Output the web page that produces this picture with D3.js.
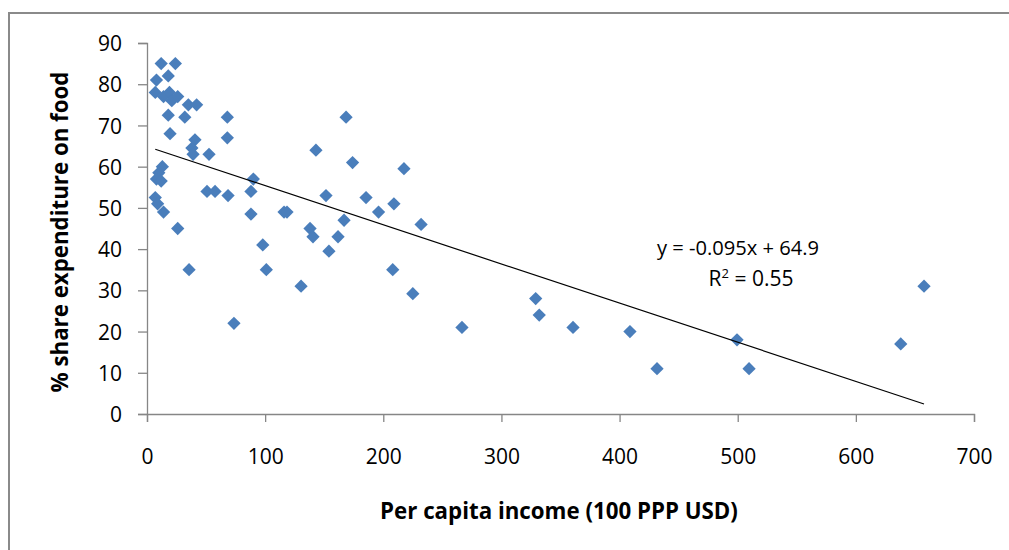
<!DOCTYPE html>
<html>
<head>
<meta charset="utf-8">
<script src="https://cdn.jsdelivr.net/npm/d3@7"></script>
<style>
  body { margin: 0; background: #fff; }
  text { font-family: "Open Sans", Lato, sans-serif; fill: #000; }
</style>
</head>
<body>
<div id="chart--wrap"></div>
<script>
;(function() {

// Data
const income = [12, 24, 18, 8, 7, 14, 19, 21, 26, 35, 42, 18, 32, 68, 19.5, 68, 40.6, 38, 39, 52.5,
  13, 10, 8, 12, 90, 7, 9, 14, 50.8, 57.6, 68.6, 88, 88, 26, 35.6, 98, 101, 73.6,
  168.5, 143, 174, 217.5, 151.5, 185.4, 209, 196, 116, 118.5, 166.8, 232, 138, 140.5, 161.7, 154, 208, 130.4, 225, 266.6,
  329, 332, 360.6, 408.8, 431.7, 499.4, 509.6, 638, 657.7];
const foodShare = [85, 85, 82, 81, 78, 77, 78, 76, 77, 75, 75, 72.5, 72, 72, 68, 67, 66.5, 64.5, 63, 63,
  60, 58.5, 57, 56.5, 57, 52.5, 51, 49, 54, 54, 53, 54, 48.5, 45, 35, 41, 35, 22,
  72, 64, 61, 59.5, 53, 52.5, 51, 49, 49, 49, 47, 46, 45, 43, 43, 39.5, 35, 31, 29.2, 21,
  28, 24, 21, 20, 11, 18, 11, 17, 31];
const xTicks = [0, 100, 200, 300, 400, 500, 600, 700];
const yTicks = [0, 10, 20, 30, 40, 50, 60, 70, 80, 90];
const slope = -0.095;
const intercept = 64.9;
const eqText = 'y = -0.095x + 64.9';
const xTitle = 'Per capita income (100 PPP USD)';
const yTitle = '% share expenditure on food';

const points = income.map((d, i) => ({ x: d, y: foodShare[i] }));

const W = 1009, H = 550;
const margin = { top: 43, right: 35, bottom: 136, left: 147 };
const width = W - margin.left - margin.right;
const height = H - margin.top - margin.bottom;
const axisColor = '#868686';

// shrink / grow a text so it spans the wanted width
const fitWidth = (sel, target) => {
  const size = parseFloat(sel.style('font-size'));
  const len = sel.node().getComputedTextLength();
  sel.style('font-size', (size * target / len).toFixed(2) + 'px');
};

const svg = d3.select('#chart--wrap').append('svg')
  .attr('width', W)
  .attr('height', H);

// chart area border (runs off the right and bottom edges)
svg.append('rect')
  .attr('x', 9).attr('y', 13)
  .attr('width', W + 20).attr('height', H + 20)
  .attr('fill', '#fff')
  .attr('stroke', '#8a8a8a')
  .attr('stroke-width', 2);

const group = svg.append('g')
  .attr('transform', `translate(${margin.left}, ${margin.top})`);

const x = d3.scaleLinear().domain([0, 700]).range([0, width]);
const y = d3.scaleLinear().domain([0, 90]).range([height, 0]);

const xAxis = d3.axisBottom(x).tickValues(xTicks).tickSize(8).tickPadding(27);
const yAxis = d3.axisLeft(y).tickValues(yTicks).tickSize(9).tickPadding(16);

const gy = group.append('g').attr('class', 'y-axis').call(yAxis);
const gx = group.append('g').attr('class', 'x-axis')
  .attr('transform', `translate(0, ${height})`)
  .call(xAxis);

[gx, gy].forEach(g => {
  g.select('.domain').attr('stroke', axisColor).attr('stroke-width', 1.3);
  g.selectAll('.tick line').attr('stroke', axisColor).attr('stroke-width', 1.3);
  g.selectAll('.tick text').style('font-size', '21px').style('font-family', '"Open Sans", sans-serif').attr('fill', '#000');
});
gy.selectAll('.tick text').attr('dy', '0.36em');

// markers
const diamond = d3.symbol().type(d3.symbolSquare).size(88);
group.selectAll('.pt')
  .data(points)
  .enter()
  .append('path')
  .attr('class', 'pt')
  .attr('d', diamond)
  .attr('transform', d => `translate(${x(d.x)}, ${y(d.y)}) rotate(45)`)
  .attr('fill', '#4a7ebb');

// linear trend line
const ext = d3.extent(points, d => d.x);
const line = d3.line()
  .x(d => x(d))
  .y(d => y(slope * d + intercept));
group.append('path')
  .datum(ext)
  .attr('d', line)
  .attr('fill', 'none')
  .attr('stroke', '#000')
  .attr('stroke-width', 1.2);

// equation label
const eq = group.append('text')
  .attr('x', 738 - margin.left)
  .attr('y', 255 - margin.top)
  .attr('text-anchor', 'middle')
  .style('font-size', '20px')
  .text(eqText);
fitWidth(eq, 162);

const r2 = group.append('text')
  .attr('x', 751 - margin.left)
  .attr('y', 286 - margin.top)
  .attr('text-anchor', 'middle')
  .style('font-size', '21px');
r2.append('tspan').text('R');
r2.append('tspan').attr('dy', -8).style('font-size', '13px').text('2');
r2.append('tspan').attr('dy', 8).text(' = 0.55');

// axis titles
const xt = svg.append('text')
  .attr('x', 559)
  .attr('y', 519)
  .attr('text-anchor', 'middle')
  .style('font-size', '20px')
  .style('font-weight', 'bold')
  .text(xTitle);
fitWidth(xt, 358);

const yt = svg.append('text')
  .attr('transform', `translate(68, 232) rotate(-90)`)
  .attr('text-anchor', 'middle')
  .style('font-size', '20px')
  .style('font-weight', 'bold')
  .text(yTitle);
fitWidth(yt, 321);

})();
</script>
</body>
</html>
